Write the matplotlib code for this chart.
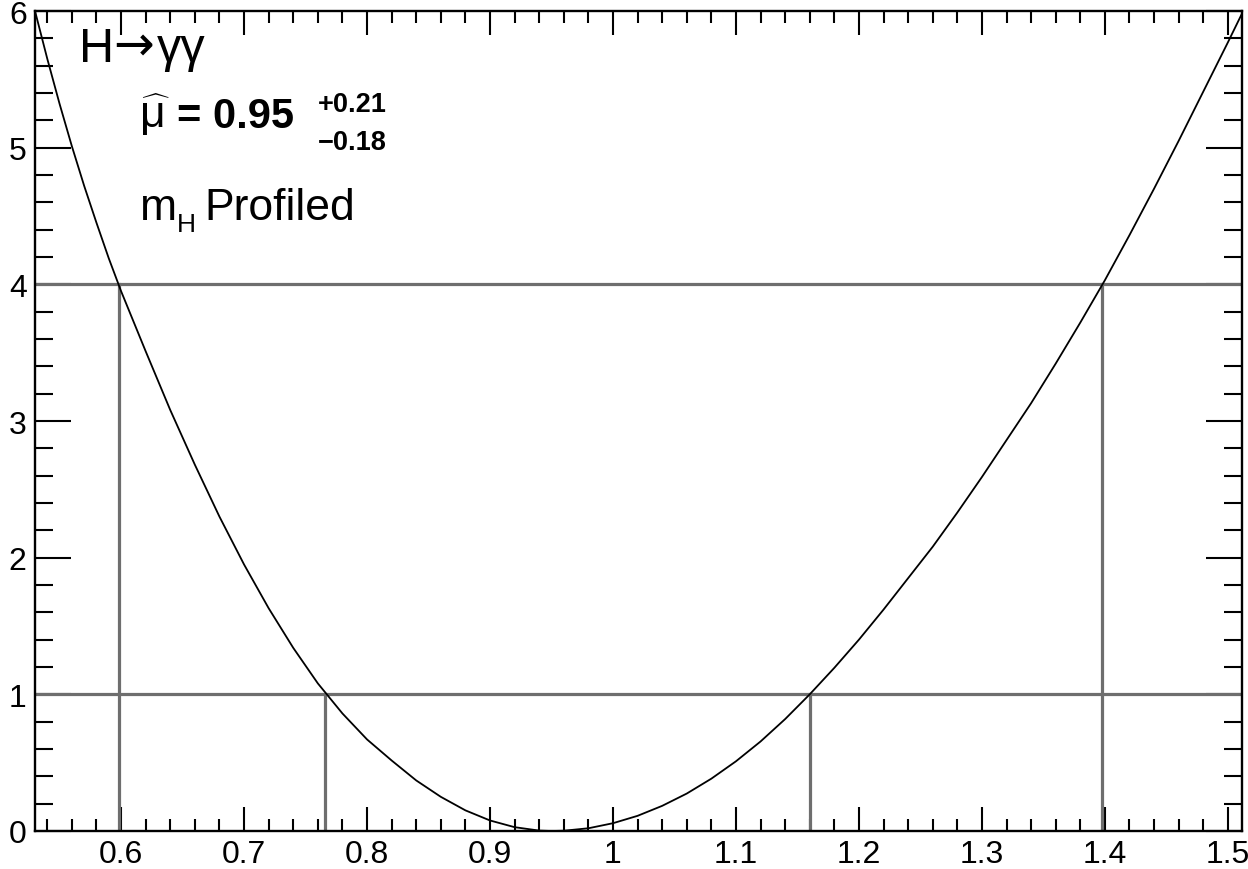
import matplotlib
matplotlib.use("Agg")
import matplotlib.pyplot as plt
from matplotlib.ticker import MultipleLocator

plt.rcParams['font.family'] = ['Liberation Sans', 'DejaVu Sans']
plt.rcParams['mathtext.fontset'] = 'custom'
plt.rcParams['mathtext.rm'] = 'Liberation Sans'
plt.rcParams['mathtext.default'] = 'regular'

# scan of -2 ln L vs signal strength
mu_vals = [0.530, 0.540, 0.550, 0.560, 0.570, 0.580, 0.590, 0.600, 0.620, 0.640,
           0.660, 0.680, 0.700, 0.720, 0.740, 0.760, 0.780, 0.800, 0.820, 0.840,
           0.860, 0.880, 0.900, 0.920, 0.940, 0.950, 0.960, 0.980, 1.000, 1.020,
           1.040, 1.060, 1.080, 1.100, 1.120, 1.140, 1.160, 1.180, 1.200, 1.220,
           1.240, 1.260, 1.280, 1.300, 1.320, 1.340, 1.360, 1.380, 1.400, 1.420,
           1.440, 1.460, 1.480, 1.500, 1.5125]
nll_vals = [6.00, 5.65, 5.32, 5.01, 4.72, 4.45, 4.19, 3.95, 3.51, 3.08,
            2.68, 2.30, 1.95, 1.63, 1.34, 1.08, 0.86, 0.67, 0.516, 0.37,
            0.25, 0.151, 0.077, 0.028, 0.003, 0.0, 0.002, 0.020, 0.057, 0.111,
            0.184, 0.274, 0.383, 0.51, 0.655, 0.819, 1.00, 1.194, 1.40, 1.62,
            1.85, 2.08, 2.33, 2.59, 2.86, 3.13, 3.42, 3.72, 4.03, 4.36,
            4.70, 5.05, 5.41, 5.77, 6.00]

one_sigma = [0.766, 1.160]
two_sigma = [0.598, 1.398]
levels = [1, 4]

x_ticks = [0.6, 0.7, 0.8, 0.9, 1.0, 1.1, 1.2, 1.3, 1.4, 1.5]
x_labels = ['0.6', '0.7', '0.8', '0.9', '1', '1.1', '1.2', '1.3', '1.4', '1.5']
y_ticks = [0, 1, 2, 3, 4, 5, 6]

xmin, xmax = 0.53, 1.5115
W, H = 1248, 870

fig = plt.figure(figsize=(W / 100, H / 100), dpi=100)
ax = fig.add_axes([35 / W, 38 / H, 1207 / W, 820 / H])

grey = '#6e6e6e'
for lv in levels:
    ax.plot([xmin, xmax], [lv, lv], color=grey, lw=2.3, zorder=2)
for xv in one_sigma:
    ax.plot([xv, xv], [0, 1], color=grey, lw=2.3, zorder=2)
for xv in two_sigma:
    ax.plot([xv, xv], [0, 4], color=grey, lw=2.3, zorder=2)

ax.plot(mu_vals, nll_vals, color='black', lw=1.3, zorder=3)

ax.set_xlim(xmin, xmax)
ax.set_ylim(0, 6)
ax.set_xticks(x_ticks)
ax.set_xticklabels(x_labels)
ax.set_yticks(y_ticks)
ax.xaxis.set_minor_locator(MultipleLocator(0.02))
ax.yaxis.set_minor_locator(MultipleLocator(0.2))

for s in ax.spines.values():
    s.set_linewidth(1.7)
    s.set_zorder(4)

ax.tick_params(axis='both', which='both', direction='in', top=True, right=True,
               width=1.5, labelsize=23, colors='black')
ax.tick_params(axis='x', which='major', length=17, pad=6)
ax.tick_params(axis='x', which='minor', length=8.5)
ax.tick_params(axis='y', which='major', length=26, pad=6)
ax.tick_params(axis='y', which='minor', length=13)


def fx(px):
    return px / W


def fy(py):
    return 1 - py / H


# H -> gamma gamma
fig.text(fx(79), fy(62), 'H', fontsize=35, va='baseline', ha='left')
fig.text(fx(113), fy(60), '\u2192', fontsize=35, family='DejaVu Sans', va='baseline', ha='left')
fig.text(fx(157), fy(62), '\u03b3\u03b3', fontsize=35, va='baseline', ha='left')

# best fit value
fig.text(fx(139), fy(128), r'$\widehat{\mu}$', fontsize=32, va='baseline', ha='left')
fig.text(fx(177), fy(128), '= 0.95', fontsize=30, fontweight='bold', va='baseline', ha='left')
fig.text(fx(318), fy(112), '+0.21', fontsize=19.5, fontweight='bold', va='baseline', ha='left')
fig.text(fx(318), fy(150), '\u22120.18', fontsize=19.5, fontweight='bold', va='baseline', ha='left')

# m_H Profiled
fig.text(fx(140), fy(220), 'm', fontsize=32, va='baseline', ha='left')
fig.text(fx(177), fy(232), 'H', fontsize=19, va='baseline', ha='left')
fig.text(fx(204), fy(220), 'Profiled', fontsize=32, va='baseline', ha='left')

fig.savefig('out.png', dpi=100)
